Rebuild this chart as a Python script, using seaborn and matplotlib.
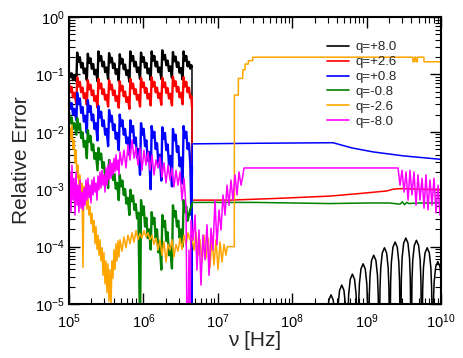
import numpy as np
import pandas as pd
import matplotlib
matplotlib.use("Agg")
import matplotlib.pyplot as plt
import seaborn as sns
from matplotlib.ticker import LogLocator, LogFormatterMathtext, NullFormatter

# ---------------- data (log10 of frequency [Hz] and of relative error) ----------------
labels = ["q=+8.0", "q=+2.6", "q=+0.8", "q=-0.8", "q=-2.6", "q=-8.0"]
colors = ["#000000", "#ff0000", "#0000ff", "#008000", "#ffa500", "#ff00ff"]

# shared frequency grid of the saw-tooth part (log10 nu)
teeth_lognu = [
    5.000, 5.018, 5.036, 5.054, 5.072, 5.100,
    5.110, 5.128, 5.146, 5.164, 5.182, 5.200, 5.218, 5.240,
    5.253, 5.271, 5.289, 5.307, 5.325, 5.343, 5.361, 5.383,
    5.396, 5.414, 5.432, 5.450, 5.468, 5.486, 5.504, 5.526,
    5.539, 5.557, 5.575, 5.593, 5.611, 5.629, 5.647, 5.669,
    5.682, 5.700, 5.718, 5.736, 5.754, 5.772, 5.790, 5.812,
    5.825, 5.843, 5.861, 5.879, 5.897, 5.915, 5.933, 5.955,
    5.968, 5.986, 6.004, 6.022, 6.040, 6.058, 6.076, 6.098,
    6.111, 6.129, 6.147, 6.165, 6.183, 6.201, 6.219, 6.241,
    6.254, 6.272, 6.290, 6.308, 6.326, 6.344, 6.362, 6.384,
    6.397, 6.415, 6.433, 6.451, 6.469, 6.487, 6.505, 6.527,
    6.540, 6.558, 6.576, 6.594, 6.612, 6.630, 6.645,
    6.653,
]

black_teeth = [
    -0.95, -1.05, -0.98, -1.10, -1.02, -1.12,
    -0.62, -0.78, -0.70, -0.88, -0.80, -0.98, -0.90, -1.10,
    -0.64, -0.80, -0.72, -0.90, -0.82, -1.00, -0.92, -1.12,
    -0.60, -0.76, -0.68, -0.86, -0.78, -0.96, -0.88, -1.08,
    -0.63, -0.79, -0.71, -0.89, -0.81, -0.99, -0.91, -1.11,
    -0.65, -0.81, -0.73, -0.91, -0.83, -1.01, -0.93, -1.13,
    -0.60, -0.76, -0.68, -0.86, -0.78, -0.96, -0.88, -1.08,
    -0.62, -0.78, -0.70, -0.88, -0.80, -0.98, -0.90, -1.10,
    -0.60, -0.76, -0.68, -0.86, -0.78, -0.96, -0.88, -1.08,
    -0.58, -0.74, -0.66, -0.84, -0.76, -0.94, -0.86, -1.06,
    -0.61, -0.77, -0.69, -0.87, -0.79, -0.97, -0.89, -1.09,
    -0.60, -0.76, -0.68, -0.86, -0.78, -0.90, -0.84,
    -0.87,
]
red_teeth = [
    -1.15, -1.30, -1.22, -1.40, -1.32, -1.52,
    -1.05, -1.21, -1.13, -1.31, -1.23, -1.41, -1.33, -1.53,
    -1.10, -1.26, -1.18, -1.36, -1.28, -1.46, -1.38, -1.58,
    -1.08, -1.24, -1.16, -1.34, -1.26, -1.44, -1.36, -1.56,
    -1.10, -1.26, -1.18, -1.36, -1.28, -1.46, -1.38, -1.58,
    -1.12, -1.28, -1.20, -1.38, -1.30, -1.48, -1.40, -1.60,
    -1.08, -1.24, -1.16, -1.34, -1.26, -1.44, -1.36, -1.56,
    -1.06, -1.22, -1.14, -1.32, -1.24, -1.42, -1.34, -1.54,
    -1.05, -1.21, -1.13, -1.31, -1.23, -1.41, -1.33, -1.53,
    -1.06, -1.22, -1.14, -1.32, -1.24, -1.42, -1.34, -1.54,
    -1.04, -1.20, -1.12, -1.30, -1.22, -1.40, -1.32, -1.52,
    -1.05, -1.21, -1.13, -1.31, -1.23, -1.41, -1.38,
    -1.57,
]
blue_teeth = [
    -1.45, -1.60, -1.50, -1.70, -1.60, -1.80,
    -1.32, -1.52, -1.42, -1.67, -1.57, -1.82, -1.72, -2.02,
    -1.45, -1.65, -1.55, -1.80, -1.70, -1.95, -1.85, -2.15,
    -1.55, -1.75, -1.65, -1.90, -1.80, -2.05, -1.95, -2.25,
    -1.62, -1.82, -1.72, -1.97, -1.87, -2.12, -2.02, -2.32,
    -1.70, -1.90, -1.80, -2.05, -1.95, -2.20, -2.10, -2.40,
    -1.80, -2.00, -1.90, -2.20, -2.10, -2.45, -2.30, -2.75,
    -1.85, -2.05, -1.95, -2.25, -2.15, -2.50, -2.35, -3.00,
    -1.90, -2.10, -2.00, -2.30, -2.20, -2.55, -2.40, -2.85,
    -1.92, -2.12, -2.02, -2.32, -2.22, -2.57, -2.42, -2.95,
    -1.95, -2.15, -2.05, -2.35, -2.25, -2.60, -2.45, -2.90,
    -1.90, -2.10, -2.00, -2.30, -2.20, -2.55, -3.45,
    -2.60,
]
green_teeth = [
    -1.65, -1.85, -1.75, -1.95, -1.85, -2.05,
    -1.76, -1.96, -1.86, -2.11, -2.01, -2.26, -2.16, -2.46,
    -1.97, -2.17, -2.07, -2.32, -2.22, -2.47, -2.37, -2.67,
    -2.28, -2.48, -2.38, -2.63, -2.53, -2.78, -2.68, -2.98,
    -2.49, -2.69, -2.59, -2.84, -2.74, -2.99, -2.89, -3.19,
    -2.75, -2.95, -2.85, -3.10, -3.00, -3.25, -3.15, -3.45,
    -3.01, -3.21, -3.11, -3.36, -3.26, -3.51, -3.41, -5.50,
    -3.19, -3.45, -3.30, -3.65, -3.50, -3.85, -3.70, -4.05,
    -3.40, -3.60, -3.50, -3.85, -3.70, -4.10, -3.95, -4.40,
    -3.45, -3.65, -3.55, -3.90, -3.75, -4.15, -4.00, -4.38,
    -3.28, -3.48, -3.38, -3.65, -3.55, -3.85, -3.70, -4.00,
    -3.19, -3.40, -3.30, -3.55, -3.45, -3.35, -3.30,
    -3.26,
]

# tails (high-frequency part)
black_tail_lognu = [
    6.655, 8.450, 8.462, 8.472, 8.493, 8.522, 8.551, 8.572, 8.582,
    8.594, 8.606, 8.616, 8.637, 8.666, 8.695, 8.716, 8.726,
    8.738, 8.749, 8.759, 8.780, 8.809, 8.838, 8.859, 8.869,
    8.881, 8.893, 8.903, 8.924, 8.953, 8.982, 9.003, 9.013,
    9.025, 9.036, 9.046, 9.067, 9.096, 9.125, 9.146, 9.156,
    9.168, 9.180, 9.190, 9.211, 9.240, 9.269, 9.290, 9.300,
    9.312, 9.323, 9.333, 9.354, 9.383, 9.412, 9.433, 9.443,
    9.455, 9.467, 9.477, 9.498, 9.527, 9.556, 9.577, 9.587,
    9.599, 9.610, 9.620, 9.641, 9.670, 9.699, 9.720, 9.730,
    9.742, 9.754, 9.764, 9.785, 9.814, 9.843, 9.864, 9.874,
    9.886, 9.898, 9.908, 9.929, 9.957, 9.986, 10.000,
]
black_tail = [
    -6.0, -6.0, -5.54, -5.19, -4.93, -4.84, -4.93, -5.19, -5.54,
    -6.0, -5.37, -5.02, -4.76, -4.67, -4.76, -5.02, -5.37,
    -6.0, -5.18, -4.83, -4.57, -4.48, -4.57, -4.83, -5.18,
    -6.0, -5.00, -4.65, -4.39, -4.30, -4.39, -4.65, -5.00,
    -6.0, -4.85, -4.50, -4.24, -4.15, -4.24, -4.50, -4.85,
    -6.0, -4.72, -4.37, -4.11, -4.02, -4.11, -4.37, -4.72,
    -6.0, -4.62, -4.27, -4.01, -3.92, -4.01, -4.27, -4.62,
    -6.0, -4.55, -4.20, -3.94, -3.85, -3.94, -4.20, -4.55,
    -6.0, -4.59, -4.24, -3.98, -3.89, -3.98, -4.24, -4.59,
    -6.0, -4.72, -4.37, -4.11, -4.02, -4.11, -4.37, -4.72,
    -6.0, -4.96, -4.61, -4.35, -4.26, -4.35, -4.50,
]
red_tail_lognu = [6.655, 7.164, 7.800, 8.508, 8.952, 9.274, 9.355, 9.450, 10.000]
red_tail = [-3.19, -3.19, -3.16, -3.12, -3.07, -3.03, -3.00, -2.99, -3.01]
blue_tail_lognu = [6.655, 6.657, 7.500, 8.548, 8.800, 9.086, 9.500, 10.000]
blue_tail = [-6.0, -2.21, -2.20, -2.19, -2.28, -2.35, -2.42, -2.48]
green_tail_lognu = [6.660, 7.500, 8.000, 8.500, 9.000, 9.300, 9.450, 9.480,
                    9.510, 9.540, 9.570, 9.700, 10.000]
green_tail = [-3.23, -3.23, -3.24, -3.25, -3.24, -3.24, -3.26, -3.22,
              -3.27, -3.23, -3.25, -3.24, -3.24]

orange_lognu = [
    5.000, 5.013, 5.027, 5.040, 5.054, 5.067, 5.081, 5.094, 5.108, 5.121,
    5.135, 5.148, 5.162, 5.175, 5.188, 5.202, 5.215, 5.228, 5.242, 5.255,
    5.269, 5.282, 5.296, 5.309, 5.323, 5.336, 5.350, 5.363, 5.377, 5.390,
    5.404, 5.417, 5.430, 5.444, 5.457, 5.470, 5.484, 5.497, 5.511, 5.524,
    5.537, 5.551, 5.564, 5.578, 5.591, 5.605, 5.618, 5.632, 5.645, 5.659,
    5.672, 5.685, 5.712, 5.739, 5.766, 5.793, 5.820, 5.847, 5.874, 5.901,
    5.928, 5.954, 5.981, 6.008, 6.035, 6.062, 6.089, 6.116, 6.142, 6.169,
    6.196, 6.223, 6.250, 6.277, 6.304, 6.331, 6.357, 6.384, 6.411, 6.438,
    6.465, 6.492, 6.519, 6.546, 6.572, 6.599, 6.626, 6.653, 6.680, 6.707,
    6.734, 6.761, 6.788, 6.815, 6.842, 6.868, 6.895, 6.922, 6.949, 6.976,
    7.003, 7.030, 7.057, 7.083, 7.110, 7.127, 7.222,
    7.223, 7.276, 7.277, 7.335, 7.336, 7.366, 7.367, 7.410, 7.411, 7.469,
    7.470, 9.620, 9.625, 9.640, 9.645, 9.660, 9.665, 9.680, 9.685, 9.770,
    9.772, 10.000,
]
orange_err = [
    -2.06, -1.93, -2.14, -1.88, -2.30, -2.14, -2.55, -2.32, -2.80, -2.58,
    -3.00, -2.75, -3.15, -2.90, -4.36, -2.95, -3.20, -3.05, -3.35, -3.15,
    -3.45, -3.30, -3.60, -3.42, -3.75, -3.55, -3.95, -3.65, -4.05, -3.80,
    -4.15, -3.88, -4.25, -4.02, -4.50, -4.10, -4.65, -4.25, -4.80, -4.30,
    -4.95, -4.40, -5.10, -4.25, -4.55, -4.05, -4.40, -3.95, -4.25, -3.90,
    -4.18, -3.88, -4.08, -3.83, -4.02, -3.80, -3.95, -3.76, -3.92, -3.72,
    -3.88, -3.77, -3.85, -3.72, -3.83, -3.76, -3.88, -3.80, -3.96, -3.85,
    -4.06, -3.88, -4.15, -3.91, -4.27, -3.96, -4.06, -3.88, -4.18, -3.96,
    -4.08, -3.85, -4.05, -3.80, -3.97, -3.76, -3.88, -3.85, -4.06, -3.75,
    -4.15, -3.88, -4.27, -3.80, -4.20, -3.85, -4.37, -3.83, -4.32, -3.88,
    -4.40, -3.92, -4.27, -3.96, -4.15, -4.00, -4.00,
    -1.36, -1.36, -1.07, -1.07, -0.92, -0.92, -0.82, -0.82, -0.76, -0.76,
    -0.70, -0.70, -0.78, -0.78, -0.70, -0.70, -0.78, -0.78, -0.70, -0.70,
    -0.78, -0.78,
]

magenta_lognu = [
    5.000, 5.013, 5.027, 5.040, 5.054, 5.067, 5.081, 5.094, 5.108, 5.121,
    5.134, 5.148, 5.161, 5.175, 5.188, 5.202, 5.215, 5.228, 5.242, 5.255,
    5.269, 5.282, 5.296, 5.309, 5.323, 5.336, 5.349, 5.363, 5.376, 5.390,
    5.403, 5.417, 5.430, 5.444, 5.457, 5.470, 5.484, 5.497, 5.511, 5.524,
    5.538, 5.551, 5.565, 5.578, 5.591, 5.605, 5.618, 5.632, 5.645, 5.659,
    5.672, 5.685, 5.712, 5.739, 5.766, 5.793, 5.820, 5.847, 5.874, 5.901,
    5.927, 5.954, 5.981, 6.008, 6.035, 6.062, 6.089, 6.116, 6.142, 6.169,
    6.196, 6.223, 6.250, 6.277, 6.304, 6.331, 6.358, 6.384, 6.411, 6.438,
    6.465, 6.492, 6.519, 6.546, 6.573, 6.586, 6.599, 6.613, 6.626, 6.640,
    6.667, 6.694, 6.720, 6.747, 6.774, 6.801, 6.828, 6.855, 6.882, 6.909,
    6.935, 6.962, 6.989, 7.016, 7.043, 7.070, 7.097, 7.124, 7.151, 7.177,
    7.204, 7.231, 7.258, 7.285, 7.312, 7.339, 7.352, 9.422, 9.449, 9.476,
    9.503, 9.530, 9.557, 9.583, 9.610, 9.637, 9.664, 9.691, 9.718, 9.745,
    9.772, 9.798, 9.825, 9.852, 9.879, 9.906, 9.933, 9.960, 9.987, 10.000,
]
magenta_err = [
    -3.10, -2.70, -3.40, -2.58, -3.19, -2.81, -3.45, -2.70, -3.28, -2.93,
    -3.40, -2.84, -3.33, -3.05, -3.36, -2.98, -3.28, -2.84, -3.19, -2.81,
    -3.15, -2.93, -3.24, -2.84, -3.10, -2.79, -3.05, -2.89, -3.19, -2.77,
    -3.01, -2.70, -2.98, -2.67, -2.93, -2.75, -3.05, -2.63, -2.93, -2.58,
    -2.84, -2.49, -2.81, -2.54, -2.75, -2.46, -2.70, -2.40, -2.67, -2.49,
    -2.75, -2.35, -2.58, -2.32, -2.63, -2.23, -2.49, -2.14, -2.46, -2.27,
    -2.58, -2.28, -2.67, -2.32, -2.58, -2.35, -2.67, -2.40, -2.75, -2.49,
    -2.63, -2.44, -2.79, -2.54, -2.89, -2.58, -2.84, -2.63, -2.96, -2.67,
    -2.93, -2.70, -3.19, -2.81, -3.31, -5.50, -5.50, -4.06, -5.50, -3.54,
    -3.89, -3.45, -4.41, -3.71, -4.67, -3.80, -4.23, -3.62, -4.50, -3.68,
    -4.06, -3.19, -3.97, -3.36, -3.71, -3.10, -3.45, -2.93, -3.28, -2.84,
    -3.19, -2.75, -3.10, -2.70, -2.93, -2.75, -2.63, -2.63, -2.93, -2.67,
    -3.05, -2.70, -3.19, -2.67, -3.10, -2.70, -3.28, -2.75, -3.19, -2.81,
    -3.33, -2.75, -3.36, -2.84, -3.28, -2.81, -3.41, -2.93, -3.45, -3.19,
]

x_ticks_exp = [5, 6, 7, 8, 9, 10]
y_ticks_exp = [-5, -4, -3, -2, -1, 0]

# ---------------- assemble ----------------
teeth_err = [black_teeth, red_teeth, blue_teeth, green_teeth]
tails = [(black_tail_lognu, black_tail), (red_tail_lognu, red_tail),
         (blue_tail_lognu, blue_tail), (green_tail_lognu, green_tail)]

frames = []
for i, lab in enumerate(labels):
    if i < 4:
        tl, te = tails[i]
        frames.append(pd.DataFrame({"series": lab, "part": "teeth",
                                    "lognu": teeth_lognu, "logerr": teeth_err[i]}))
        frames.append(pd.DataFrame({"series": lab, "part": "tail",
                                    "lognu": [teeth_lognu[-1]] + tl,
                                    "logerr": [teeth_err[i][-1]] + te}))
    elif i == 4:
        frames.append(pd.DataFrame({"series": lab, "part": "all",
                                    "lognu": orange_lognu, "logerr": orange_err}))
    else:
        frames.append(pd.DataFrame({"series": lab, "part": "all",
                                    "lognu": magenta_lognu, "logerr": magenta_err}))
df = pd.concat(frames, ignore_index=True)
df["nu"] = 10.0 ** df["lognu"]
df["err"] = 10.0 ** df["logerr"]

# ---------------- plot ----------------
sns.set_style("ticks")
plt.rcParams["font.family"] = ["Liberation Sans", "DejaVu Sans"]
plt.rcParams["mathtext.default"] = "regular"
plt.rcParams["mathtext.fontset"] = "custom"
plt.rcParams["mathtext.rm"] = "Liberation Sans"

fig, ax = plt.subplots(figsize=(4.63, 3.58), dpi=100)
fig.subplots_adjust(left=0.149, right=0.9525, top=0.9525, bottom=0.1508)
ax.set_xscale("log")
ax.set_yscale("log")

for lab, col in zip(labels, colors):
    for part in ["teeth", "all", "tail"]:
        d = df[(df["series"] == lab) & (df["part"] == part)]
        if d.empty:
            continue
        lw = 1.7 if part == "teeth" else 1.1
        sns.lineplot(data=d, x="nu", y="err", ax=ax, color=col, lw=lw,
                     sort=False, estimator=None,
                     label=lab if part in ("teeth", "all") else "_nolegend_")

ax.set_xlim(10.0 ** x_ticks_exp[0], 10.0 ** x_ticks_exp[-1])
ax.set_ylim(10.0 ** y_ticks_exp[0], 10.0 ** y_ticks_exp[-1])
ax.xaxis.set_major_locator(LogLocator(base=10, numticks=20))
ax.yaxis.set_major_locator(LogLocator(base=10, numticks=20))
ax.xaxis.set_minor_locator(LogLocator(base=10, subs=np.arange(2, 10), numticks=20))
ax.yaxis.set_minor_locator(LogLocator(base=10, subs=np.arange(2, 10), numticks=20))
ax.xaxis.set_major_formatter(LogFormatterMathtext())
ax.yaxis.set_major_formatter(LogFormatterMathtext())
ax.xaxis.set_minor_formatter(NullFormatter())
ax.yaxis.set_minor_formatter(NullFormatter())
ax.tick_params(which="both", direction="in", top=True, right=True,
               labelsize=10.5, colors="black")
ax.tick_params(which="major", length=8, width=1.0)
ax.tick_params(which="minor", length=4.5, width=0.8)
ax.tick_params(axis="x", which="major", pad=6)
ax.tick_params(axis="y", which="major", pad=3)
for sp in ax.spines.values():
    sp.set_linewidth(1.5)
    sp.set_color("black")

ax.set_xlabel("ν [Hz]", fontsize=15, labelpad=0)
ax.set_ylabel("Relative Error", fontsize=15, labelpad=3)

leg = ax.legend(loc="upper left", bbox_to_anchor=(0.679, 0.934), frameon=False,
                fontsize=9.5, handlelength=1.7, handletextpad=0.45,
                labelspacing=0.2, borderaxespad=0)
for h in leg.get_lines():
    h.set_linewidth(1.2)

fig.savefig("out.png", dpi=100)
